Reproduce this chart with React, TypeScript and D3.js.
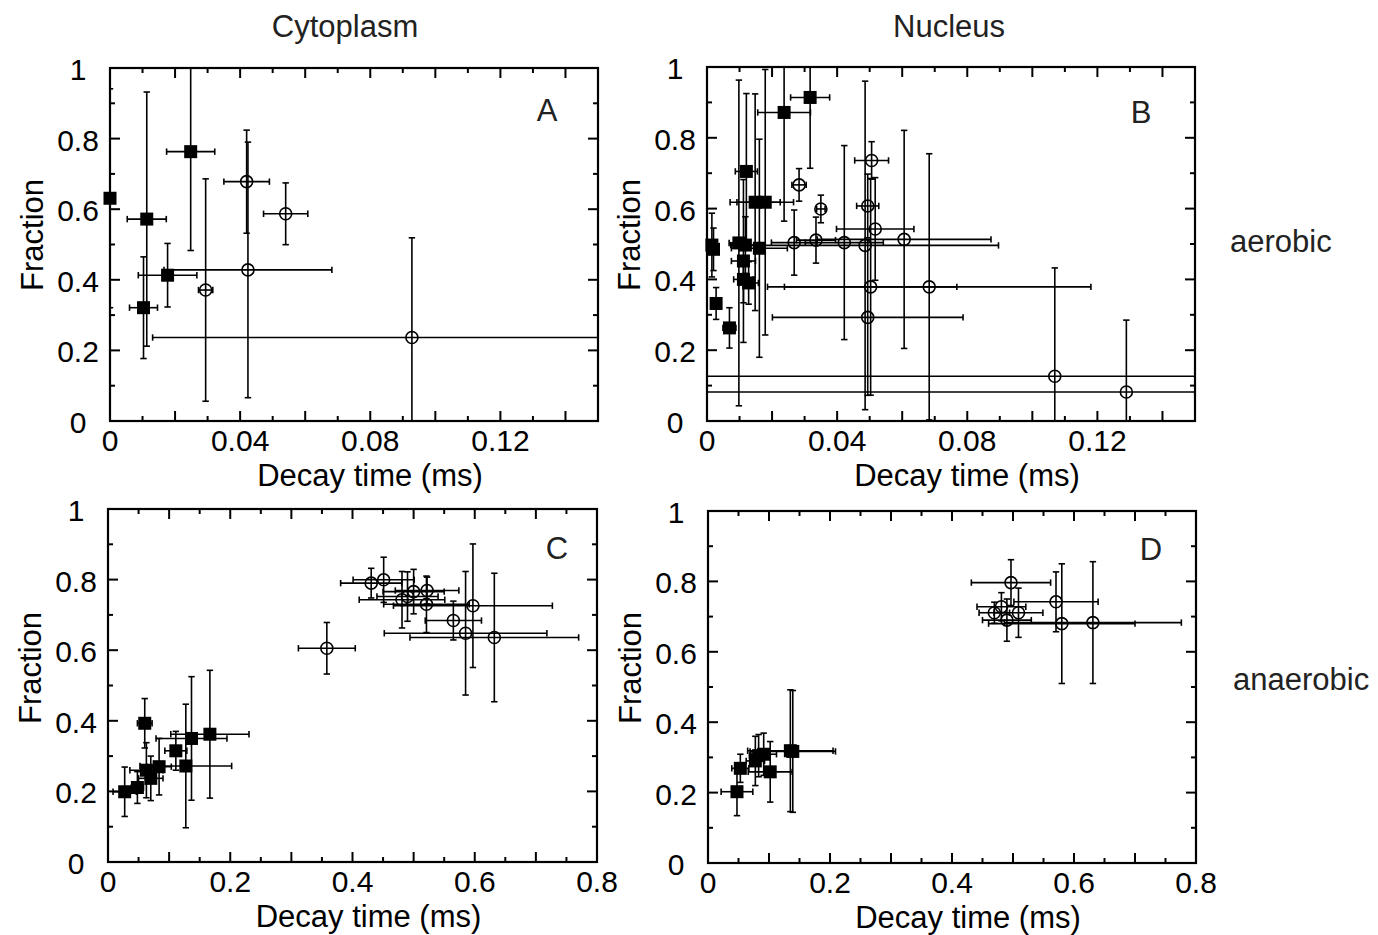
// Fraction vs decay time, 2x2 panels (cytoplasm / nucleus, aerobic / anaerobic)
import React, { useEffect, useRef } from 'react';
import * as d3 from 'd3';

// [decay time, fraction, ±time, ±fraction]
type Pt = [number, number, number, number];

// A — cytoplasm, aerobic
const cytoAerobicFilled: Pt[] = [
  [0.0, 0.631, 0.0, 0.31],
  [0.0113, 0.572, 0.006, 0.36],
  [0.0103, 0.321, 0.0043, 0.144],
  [0.0177, 0.413, 0.009, 0.09],
  [0.0248, 0.763, 0.0074, 0.28],
];
const cytoAerobicOpen: Pt[] = [
  [0.042, 0.678, 0.007, 0.146],
  [0.0424, 0.428, 0.0258, 0.362],
  [0.054, 0.587, 0.0068, 0.0875],
  [0.0294, 0.371, 0.0022, 0.315],
  [0.0928, 0.2365, 0.0797, 0.2825],
];

// B — nucleus, aerobic
const nucAerobicFilled: Pt[] = [
  [0.0015, 0.497, 0.0005, 0.09],
  [0.002, 0.485, 0.0005, 0.06],
  [0.0028, 0.332, 0.001, 0.045],
  [0.0069, 0.263, 0.002, 0.057],
  [0.0098, 0.503, 0.003, 0.46],
  [0.0118, 0.497, 0.0045, 0.08],
  [0.0112, 0.452, 0.0037, 0.23],
  [0.0112, 0.4, 0.003, 0.066],
  [0.0128, 0.39, 0.003, 0.06],
  [0.0121, 0.705, 0.0034, 0.22],
  [0.0148, 0.618, 0.0077, 0.306],
  [0.0179, 0.618, 0.0087, 0.375],
  [0.0161, 0.488, 0.0086, 0.308],
  [0.0237, 0.8716, 0.0081, 0.307],
  [0.0317, 0.914, 0.006, 0.2],
];
const nucAerobicOpen: Pt[] = [
  [0.0506, 0.736, 0.0052, 0.053],
  [0.0283, 0.667, 0.0022, 0.046],
  [0.035, 0.599, 0.0013, 0.039],
  [0.0494, 0.6075, 0.0034, 0.09],
  [0.0517, 0.5425, 0.0119, 0.145],
  [0.0268, 0.504, 0.007, 0.092],
  [0.0335, 0.511, 0.006, 0.065],
  [0.0422, 0.504, 0.012, 0.274],
  [0.0486, 0.496, 0.041, 0.464],
  [0.0606, 0.513, 0.0267, 0.308],
  [0.0683, 0.379, 0.0497, 0.376],
  [0.0503, 0.379, 0.0265, 0.306],
  [0.0494, 0.2926, 0.0293, 0.22],
  [0.1069, 0.1265, 0.12, 0.306],
  [0.1289, 0.082, 0.14, 0.203],
];

// C — cytoplasm, anaerobic
const cytoAnaerobicFilled: Pt[] = [
  [0.0273, 0.199, 0.019, 0.07],
  [0.0481, 0.211, 0.01, 0.045],
  [0.0601, 0.393, 0.012, 0.07],
  [0.0628, 0.26, 0.027, 0.078],
  [0.07, 0.237, 0.02, 0.063],
  [0.0836, 0.27, 0.02, 0.08],
  [0.111, 0.315, 0.018, 0.055],
  [0.1273, 0.272, 0.075, 0.175],
  [0.1366, 0.35, 0.058, 0.175],
  [0.1667, 0.362, 0.064, 0.181],
];
const cytoAnaerobicOpen: Pt[] = [
  [0.358, 0.6055, 0.0465, 0.073],
  [0.4306, 0.79, 0.05, 0.042],
  [0.451, 0.7994, 0.05, 0.064],
  [0.481, 0.743, 0.07, 0.08],
  [0.49, 0.752, 0.05, 0.07],
  [0.5, 0.766, 0.05, 0.063],
  [0.522, 0.769, 0.052, 0.038],
  [0.521, 0.73, 0.07, 0.08],
  [0.565, 0.684, 0.046, 0.055],
  [0.585, 0.648, 0.133, 0.175],
  [0.597, 0.726, 0.13, 0.175],
  [0.632, 0.636, 0.138, 0.182],
];

// D — nucleus, anaerobic
const nucAnaerobicFilled: Pt[] = [
  [0.0475, 0.2025, 0.026, 0.068],
  [0.053, 0.269, 0.014, 0.04],
  [0.0776, 0.29, 0.015, 0.07],
  [0.083, 0.305, 0.015, 0.06],
  [0.0913, 0.309, 0.021, 0.06],
  [0.102, 0.259, 0.036, 0.086],
  [0.135, 0.319, 0.07, 0.173],
  [0.139, 0.317, 0.07, 0.173],
];
const nucAnaerobicOpen: Pt[] = [
  [0.4967, 0.7966, 0.065, 0.065],
  [0.481, 0.728, 0.04, 0.04],
  [0.4694, 0.711, 0.025, 0.03],
  [0.49, 0.69, 0.04, 0.06],
  [0.509, 0.711, 0.04, 0.07],
  [0.5705, 0.742, 0.069, 0.085],
  [0.58, 0.68, 0.12, 0.17],
  [0.631, 0.683, 0.145, 0.173],
];

const columnTitles = ['Cytoplasm', 'Nucleus'];
const rowLabels = ['aerobic', 'anaerobic'];
const panelLetters = ['A', 'B', 'C', 'D'];
const aerobicXTicks = [0, 0.04, 0.08, 0.12];
const anaerobicXTicks = [0, 0.2, 0.4, 0.6, 0.8];
const yTicks = [0, 0.2, 0.4, 0.6, 0.8, 1];
const xLabel = 'Decay time (ms)';
const yLabel = 'Fraction';

const FONT = '"Liberation Sans", Arial, Helvetica, sans-serif';
const FS = 31; // titles
const TICK_FS = 30; // tick labels

const panels = [
  { box: [110, 68, 598, 421], xMax: 0.15, minor: 0.01, major: 0.02, labels: aerobicXTicks, filled: cytoAerobicFilled, open: cytoAerobicOpen, letter: [547, 121], yLabelY: 235 },
  { box: [707, 67, 1195, 421], xMax: 0.15, minor: 0.01, major: 0.02, labels: aerobicXTicks, filled: nucAerobicFilled, open: nucAerobicOpen, letter: [1141, 123], yLabelY: 235 },
  { box: [108, 509, 597, 862], xMax: 0.8, minor: 0.05, major: 0.1, labels: anaerobicXTicks, filled: cytoAnaerobicFilled, open: cytoAnaerobicOpen, letter: [557, 559], yLabelY: 668 },
  { box: [708, 511, 1196, 863], xMax: 0.8, minor: 0.05, major: 0.1, labels: anaerobicXTicks, filled: nucAnaerobicFilled, open: nucAnaerobicOpen, letter: [1151, 560], yLabelY: 668 },
];

const App: React.FC = () => {
  const svgRef = useRef<SVGSVGElement>(null);

  useEffect(() => {
    if (!svgRef.current) return;
    const svg = d3.select(svgRef.current);
    svg.selectAll('*').remove();
    const defs = svg.append('defs');

    panels.forEach((p, i) => {
      const [l, t, r, b] = p.box;
      const w = r - l;
      const h = b - t;
      const x = d3.scaleLinear().domain([0, p.xMax]).range([0, w]);
      const y = d3.scaleLinear().domain([0, 1]).range([h, 0]);
      const g = svg.append('g').attr('transform', `translate(${l},${t})`);

      // error bars are clipped to the frame, markers are not
      const clipId = `clip-${i}`;
      defs.append('clipPath').attr('id', clipId).append('rect').attr('width', w).attr('height', h);
      const plot = g.append('g');

      const cap = 3.2;
      const eb = plot.append('g')
        .attr('clip-path', `url(#${clipId})`)
        .attr('stroke', '#000')
        .attr('stroke-width', 1.6)
        .attr('fill', 'none');
      [...p.filled, ...p.open].forEach(([vx, vy, ex, ey]) => {
        const cx = x(vx);
        const cy = y(vy);
        if (ex > 0) {
          const x0 = x(vx - ex);
          const x1 = x(vx + ex);
          eb.append('line').attr('x1', x0).attr('x2', x1).attr('y1', cy).attr('y2', cy);
          [x0, x1].forEach((xx) => eb.append('line').attr('x1', xx).attr('x2', xx).attr('y1', cy - cap).attr('y2', cy + cap));
        }
        if (ey > 0) {
          const y0 = y(vy - ey);
          const y1 = y(vy + ey);
          eb.append('line').attr('x1', cx).attr('x2', cx).attr('y1', y0).attr('y2', y1);
          [y0, y1].forEach((yy) => eb.append('line').attr('x1', cx - cap).attr('x2', cx + cap).attr('y1', yy).attr('y2', yy));
        }
      });

      plot.append('g')
        .selectAll('circle')
        .data(p.open)
        .enter()
        .append('circle')
        .attr('cx', (d) => x(d[0]))
        .attr('cy', (d) => y(d[1]))
        .attr('r', 6)
        .attr('fill', 'none')
        .attr('stroke', '#000')
        .attr('stroke-width', 1.6);

      const sq = 13;
      plot.append('g')
        .selectAll('rect')
        .data(p.filled)
        .enter()
        .append('rect')
        .attr('x', (d) => x(d[0]) - sq / 2)
        .attr('y', (d) => y(d[1]) - sq / 2)
        .attr('width', sq)
        .attr('height', sq)
        .attr('fill', '#000');

      // ticks, inward on all four sides
      const ticks = g.append('g').attr('stroke', '#000').attr('stroke-width', 2);
      const nx = Math.round(p.xMax / p.minor);
      d3.range(1, nx).forEach((k) => {
        const v = k * p.minor;
        const isMajor = Math.abs(v / p.major - Math.round(v / p.major)) < 1e-6;
        const len = isMajor ? 10 : 5;
        ticks.append('line').attr('x1', x(v)).attr('x2', x(v)).attr('y1', h).attr('y2', h - len);
        ticks.append('line').attr('x1', x(v)).attr('x2', x(v)).attr('y1', 0).attr('y2', len);
      });
      d3.range(1, 10).forEach((k) => {
        const v = k / 10;
        const len = k % 2 === 0 ? 10 : 5;
        ticks.append('line').attr('x1', 0).attr('x2', len).attr('y1', y(v)).attr('y2', y(v));
        ticks.append('line').attr('x1', w).attr('x2', w - len).attr('y1', y(v)).attr('y2', y(v));
      });

      g.append('rect')
        .attr('width', w)
        .attr('height', h)
        .attr('fill', 'none')
        .attr('stroke', '#000')
        .attr('stroke-width', 2.2);

      const tickText = g.append('g').attr('font-family', FONT).attr('font-size', TICK_FS).attr('fill', '#000');

      tickText.selectAll('.xt')
        .data(p.labels)
        .enter()
        .append('text')
        .attr('x', (d) => x(d))
        .attr('y', h + 30)
        .attr('text-anchor', 'middle')
        .text((d) => String(d));

      tickText.selectAll('.yt')
        .data(yTicks)
        .enter()
        .append('text')
        .attr('x', -32)
        .attr('y', (d) => y(d) + 12)
        .attr('text-anchor', 'middle')
        .text((d) => String(d));

      const text = g.append('g').attr('font-family', FONT).attr('font-size', FS).attr('fill', '#000');

      text.append('text')
        .attr('x', w / 2 + 16)
        .attr('y', h + 65)
        .attr('text-anchor', 'middle')
        .text(xLabel);

      text.append('text')
        .attr('transform', `translate(-67,${p.yLabelY - t}) rotate(-90)`)
        .attr('text-anchor', 'middle')
        .text(yLabel);

      text.append('text')
        .attr('x', p.letter[0] - l)
        .attr('y', p.letter[1] - t)
        .attr('text-anchor', 'middle')
        .attr('fill', '#222')
        .text(panelLetters[i]);
    });

    const outer = svg.append('g').attr('font-family', FONT).attr('font-size', FS).attr('fill', '#222');
    outer.selectAll('.col')
      .data(columnTitles)
      .enter()
      .append('text')
      .attr('x', (_, i) => [345, 949][i])
      .attr('y', 37)
      .attr('text-anchor', 'middle')
      .text((d) => d);
    outer.selectAll('.row')
      .data(rowLabels)
      .enter()
      .append('text')
      .attr('x', (_, i) => [1230, 1233][i])
      .attr('y', (_, i) => [252, 690][i])
      .text((d) => d);
  }, []);

  return (
    <svg
      ref={svgRef}
      width={1378}
      height={935}
      style={{ position: 'absolute', left: 0, top: 0, background: '#fff' }}
    />
  );
};

export default App;
